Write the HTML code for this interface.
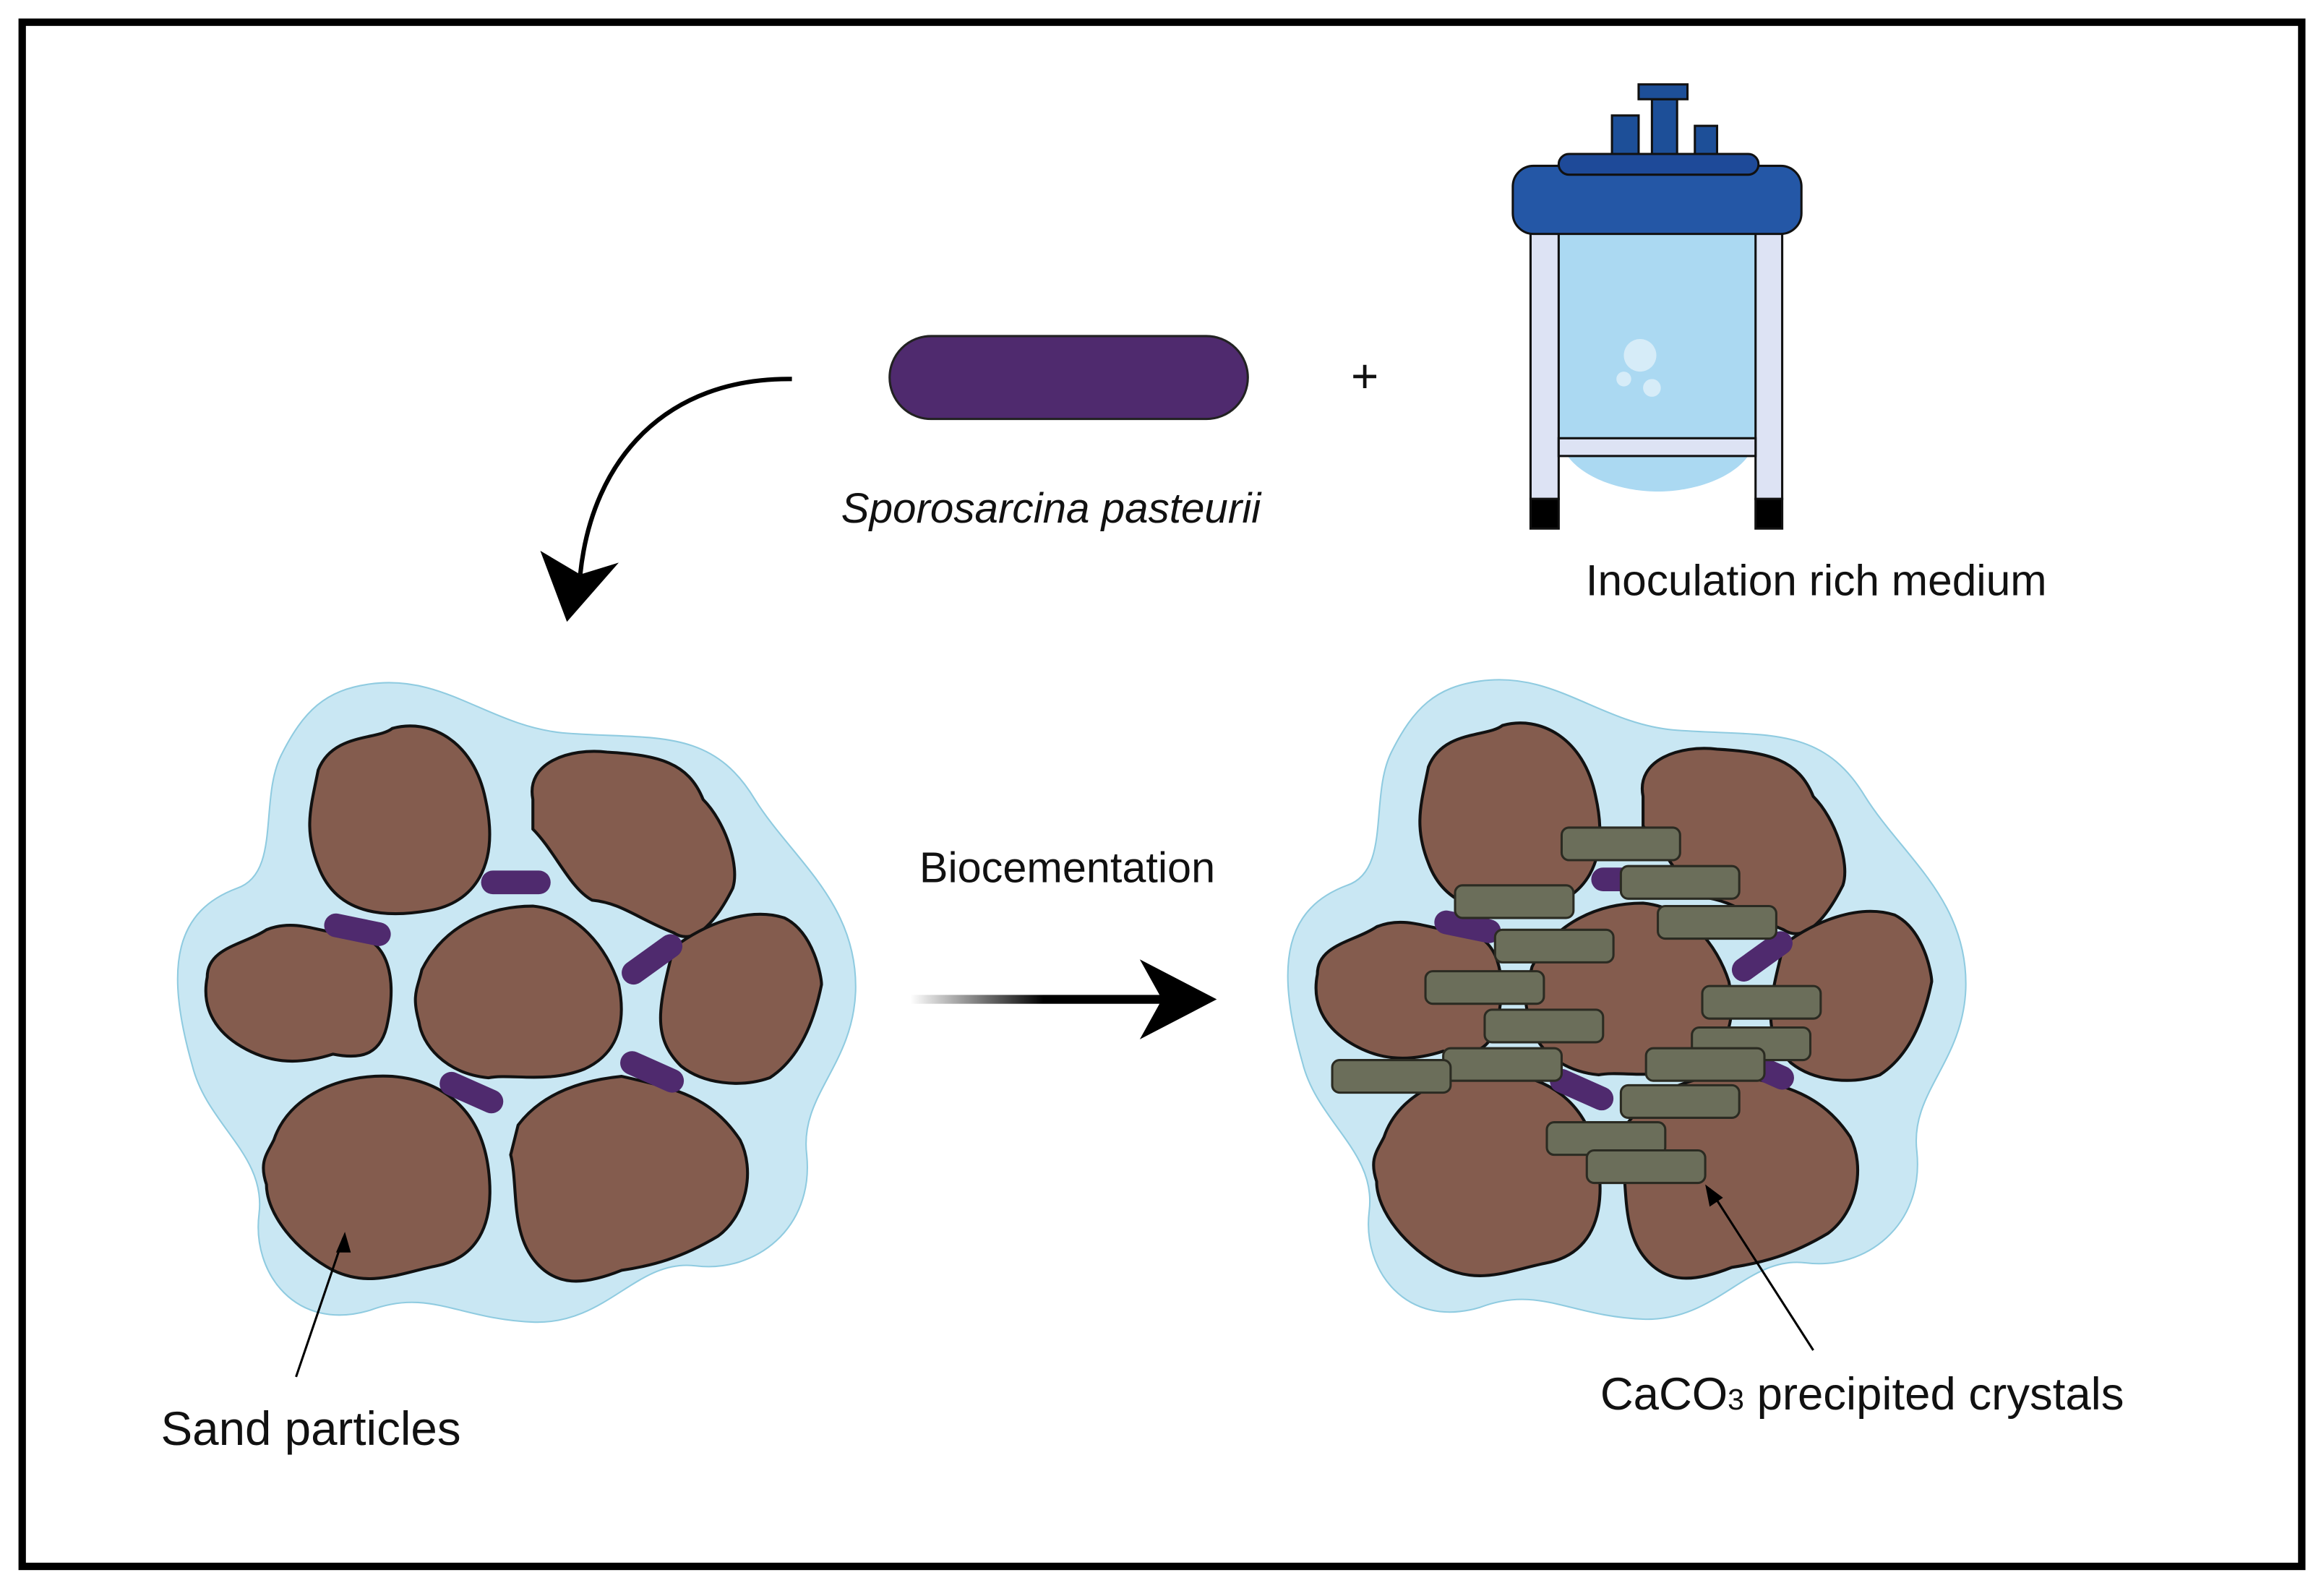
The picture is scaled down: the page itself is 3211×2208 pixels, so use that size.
<!DOCTYPE html>
<html><head><meta charset="utf-8"><style>html,body{margin:0;padding:0;background:#fff}svg{display:block}</style></head>
<body>
<svg width="3211" height="2208" viewBox="0 0 1568 1078" preserveAspectRatio="none" xmlns="http://www.w3.org/2000/svg">
<defs>
<linearGradient id="g" x1="0" x2="1"><stop offset="0" stop-color="#fff"/><stop offset="0.5" stop-color="#000"/></linearGradient>
<g id="cluster">
<path d="M250,462 C300,455 330,490 380,495 C440,500 480,490 510,540 C535,580 580,610 578,670 C576,720 540,740 545,780 C550,830 510,860 470,855 C430,850 410,895 360,893 C310,891 290,870 250,885 C200,900 170,860 175,820 C180,780 140,760 130,720 C110,650 120,615 160,600 C190,590 175,540 190,510 C205,480 220,466 250,462 Z" fill="#c9e7f3" stroke="#8fcbe0" stroke-width="1"/>
<g fill="#845c4e" stroke="#111" stroke-width="2">
<path d="M215,520 C225,495 255,500 265,492 C290,485 320,500 328,540 C338,585 320,610 290,615 C250,622 225,612 215,585 C205,560 210,545 215,520 Z"/>
<path d="M360,540 C355,515 385,505 410,508 C445,510 465,515 475,540 C490,555 500,585 495,600 C485,620 470,640 455,630 C430,620 420,610 400,608 C385,600 375,575 360,560 Z"/>
<path d="M140,660 C140,640 165,638 180,628 C200,620 215,630 240,632 C262,635 268,660 262,690 C258,712 245,716 225,712 C200,720 180,718 160,705 C145,695 136,680 140,660 Z"/>
<path d="M285,655 C300,625 330,612 360,612 C390,615 410,640 418,665 C425,700 410,715 395,722 C370,732 345,725 330,728 C300,725 285,705 283,690 C278,672 282,668 285,655 Z"/>
<path d="M455,640 C475,625 505,612 530,620 C550,630 555,660 555,665 C550,690 540,715 520,728 C500,735 475,732 460,720 C440,700 445,680 455,640 Z"/>
<path d="M185,770 C195,740 230,725 265,727 C300,730 325,750 330,790 C335,830 320,850 295,855 C270,860 250,870 225,858 C200,845 180,820 180,800 C175,785 180,780 185,770 Z"/>
<path d="M350,760 C365,740 390,730 420,727 C455,735 480,740 500,770 C510,790 505,820 485,835 C460,850 440,855 420,858 C395,868 375,870 360,850 C345,830 350,800 345,780 Z"/>
</g>
<g stroke="#4f2a6e" stroke-width="16" stroke-linecap="round">
<line x1="333" y1="596" x2="364" y2="596"/>
<line x1="227" y1="625" x2="256" y2="631"/>
<line x1="428" y1="657" x2="453" y2="639"/>
<line x1="305" y1="732" x2="332" y2="744"/>
<line x1="427" y1="718" x2="454" y2="730"/>
</g>
</g>
</defs>
<rect x="15" y="15" width="1540" height="1043" fill="#fff" stroke="#000" stroke-width="5"/>
<use href="#cluster"/>
<use href="#cluster" transform="translate(750,-2)"/>
<g fill="#6b6e5a" stroke="#2b2b22" stroke-width="1.5">
<rect x="1055" y="559" width="80" height="22" rx="5"/>
<rect x="983" y="598" width="80" height="22" rx="5"/>
<rect x="1095" y="585" width="80" height="22" rx="5"/>
<rect x="1120" y="612" width="80" height="22" rx="5"/>
<rect x="1010" y="628" width="80" height="22" rx="5"/>
<rect x="963" y="656" width="80" height="22" rx="5"/>
<rect x="1150" y="666" width="80" height="22" rx="5"/>
<rect x="1003" y="682" width="80" height="22" rx="5"/>
<rect x="1143" y="694" width="80" height="22" rx="5"/>
<rect x="975" y="708" width="80" height="22" rx="5"/>
<rect x="1112" y="708" width="80" height="22" rx="5"/>
<rect x="900" y="716" width="80" height="22" rx="5"/>
<rect x="1095" y="733" width="80" height="22" rx="5"/>
<rect x="1045" y="758" width="80" height="22" rx="5"/>
<rect x="1072" y="777" width="80" height="22" rx="5"/>
</g>
<rect x="601" y="227" width="242" height="56" rx="28" fill="#4f2a6e" stroke="#222" stroke-width="1.5"/>
<path d="M535,256 C450,255 400,310 392,388" fill="none" stroke="#000" stroke-width="3"/>
<path d="M365,372 L392,388 L418,380 L383,420 Z" fill="#000"/>
<rect x="615" y="672" width="180" height="6" fill="url(#g)"/>
<path d="M770,648 L822,675 L770,702 L785,675 Z" fill="#000"/>
<g stroke="#000" stroke-width="1.5" fill="none"><line x1="200" y1="930" x2="232" y2="836"/><line x1="1225" y1="912" x2="1155" y2="803"/></g>
<path d="M233,832 L227,846 L237,846 Z" fill="#000"/>
<path d="M1152,800 L1155,815 L1164,809 Z" fill="#000"/>
<!-- reactor -->
<path d="M1053,138 L1187,138 L1187,290 C1187,318 1150,332 1120,332 C1090,332 1053,318 1053,290 Z" fill="#abd9f2"/>
<g stroke="#111" stroke-width="1.5">
<rect x="1034" y="138" width="19" height="199" fill="#dde3f4"/>
<rect x="1186" y="138" width="18" height="199" fill="#dde3f4"/>
<rect x="1034" y="337" width="19" height="20" fill="#000"/>
<rect x="1186" y="337" width="18" height="20" fill="#000"/>
<rect x="1053" y="296" width="133" height="12" fill="#dde3f4"/>
<rect x="1089" y="78" width="18" height="30" fill="#1d4f98"/>
<rect x="1145" y="85" width="15" height="23" fill="#1d4f98"/>
<rect x="1116" y="67" width="17" height="41" fill="#1d4f98"/>
<rect x="1107" y="57" width="33" height="10" fill="#1d4f98"/>
<rect x="1022" y="112" width="195" height="46" rx="14" fill="#2457a6"/>
<rect x="1053" y="104" width="135" height="14" rx="7" fill="#1e4a99"/>
</g>
<g fill="#d6ecf8"><circle cx="1108" cy="240" r="11"/><circle cx="1097" cy="256" r="5"/><circle cx="1116" cy="262" r="6"/></g>
<g font-family="Liberation Sans, sans-serif" fill="#111" text-anchor="middle">
<text x="922" y="265" font-size="32">+</text>
<text x="710" y="353" font-size="28.5" font-style="italic">Sporosarcina pasteurii</text>
<text x="1227" y="402" font-size="29.5">Inoculation rich medium</text>
<text x="721" y="596" font-size="29">Biocementation</text>
<text x="210" y="976" font-size="32">Sand particles</text>
<text x="1258" y="952" font-size="31">CaCO<tspan font-size="20">3</tspan> precipited crystals</text>
</g>
</svg>
</body></html>
